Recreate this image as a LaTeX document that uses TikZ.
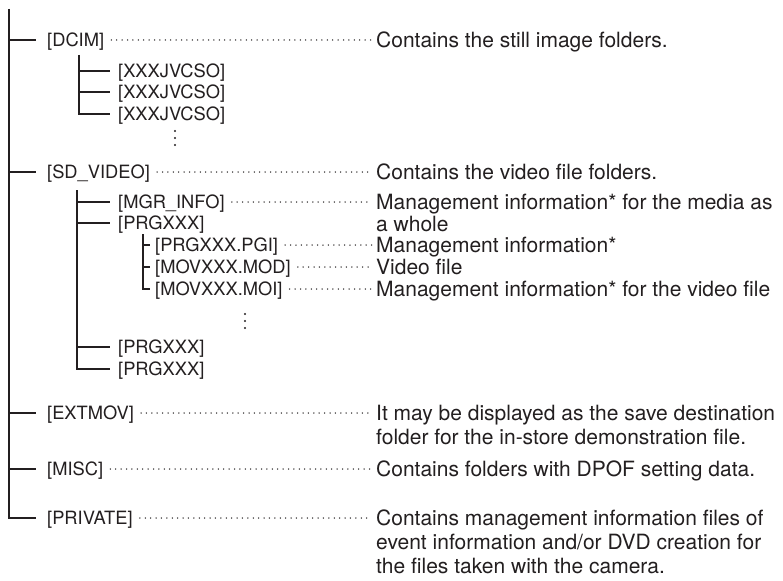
\documentclass[tikz,border=0pt]{standalone}
\usepackage{fontspec}
\setmainfont{TeX Gyre Heros}
\usetikzlibrary{calc}
\definecolor{ink}{HTML}{231F20}
\begin{document}
\begin{tikzpicture}[x=1pt,y=-1pt,
  tree/.style={draw=ink, line width=1.9pt},
  lbl/.style={anchor=west, inner sep=0pt, text=ink, font=\fontsize{18.3}{21}\selectfont, text height=13.1pt, text depth=0pt},
  desc/.style={anchor=base west, inner sep=0pt, text=ink, align=left, font=\fontsize{21}{24}\selectfont},
  leader/.style={draw=ink, line width=1.5pt, line cap=round, dash pattern=on 0pt off 5.4pt, shorten <=7pt, shorten >=4pt},
  vdot/.style={circle, fill=ink, inner sep=0pt, minimum size=2.2pt}]
\fill[white] (0,0) rectangle (783,580);
\useasboundingbox (0,0) rectangle (783,580);

% level 1
\coordinate (r0) at (9,9);
\node[lbl] (dcim) at (47,40) {[DCIM]};
\node[lbl] (sdv) at (47,172) {[SD\_VIDEO]};
\node[lbl] (ext) at (47,413) {[EXTMOV]};
\node[lbl] (misc) at (47,469) {[MISC]};
\node[lbl] (priv) at (47,518) {[PRIVATE]};

% DCIM children
\coordinate (d0) at (79,55);
\node[lbl] (x1) at (118,71) {[XXXJVCSO]};
\node[lbl] (x2) at (118,92) {[XXXJVCSO]};
\node[lbl] (x3) at (118,114) {[XXXJVCSO]};
\node[vdot] (dA) at (175,131) {};
\node[vdot] (dB) at (175,138) {};
\node[vdot] (dC) at (175,145) {};

% SD_VIDEO children
\coordinate (s0) at (77,190);
\node[lbl] (mgr) at (118,202) {[MGR\_INFO]};
\node[lbl] (prg1) at (118,223) {[PRGXXX]};
\node[lbl] (prg2) at (118,347) {[PRGXXX]};
\node[lbl] (prg3) at (118,369) {[PRGXXX]};

% PRGXXX children
\coordinate (p0) at (143,234);
\node[lbl] (pgi) at (155,245) {[PRGXXX.PGI]};
\node[lbl] (mod) at (155,267) {[MOVXXX.MOD]};
\node[lbl] (moi) at (155,289) {[MOVXXX.MOI]};
\node[vdot] (pA) at (245,314) {};
\node[vdot] (pB) at (245,321) {};
\node[vdot] (pC) at (245,328) {};

% descriptions (base anchor = baseline of last line)
\node[desc] (dcimd) at (376,47.5) {Contains the still image folders.};
\node[desc] (sdvd) at (376,179.5) {Contains the video file folders.};
\node[desc, font=\fontsize{21}{22}\selectfont] (mgrd) at (376,231.5) {Management information* for the media as\\a whole};
\node[desc] (pgid) at (376,252.5) {Management information*};
\node[desc] (modd) at (376,274.5) {Video file};
\node[desc] (moid) at (376,296.5) {Management information* for the video file};
\node[desc] (extd) at (376,444.5) {It may be displayed as the save destination\\folder for the in-store demonstration file.};
\node[desc] (miscd) at (376,476.5) {Contains folders with DPOF setting data.};
\node[desc] (privd) at (376,573.5) {Contains management information files of\\event information and/or DVD creation for\\the files taken with the camera.};

% tree lines
\draw[tree, shorten >=11pt] (r0) |- (priv.west);
\foreach \n in {dcim,sdv,ext,misc}
  \draw[tree, shorten >=11pt] (\n.west -| r0) -- (\n.west);
\draw[tree, shorten >=8pt] (d0) |- (x3.west);
\foreach \n in {x1,x2}
  \draw[tree, shorten >=8pt] (\n.west -| d0) -- (\n.west);
\draw[tree, shorten >=8pt] (s0) |- (prg3.west);
\foreach \n in {mgr,prg1,prg2}
  \draw[tree, shorten >=8pt] (\n.west -| s0) -- (\n.west);
\draw[tree, shorten >=5pt] (p0) |- (moi.west);
\foreach \n in {pgi,mod}
  \draw[tree, shorten >=5pt] (\n.west -| p0) -- (\n.west);

% leaders
\foreach \a/\b in {dcim/dcimd, sdv/sdvd, mgr/mgrd, pgi/pgid, mod/modd, moi/moid, ext/extd, misc/miscd, priv/privd}
  \draw[leader] (\a.east) -- (\a.east -| \b.west);
\end{tikzpicture}
\end{document}
